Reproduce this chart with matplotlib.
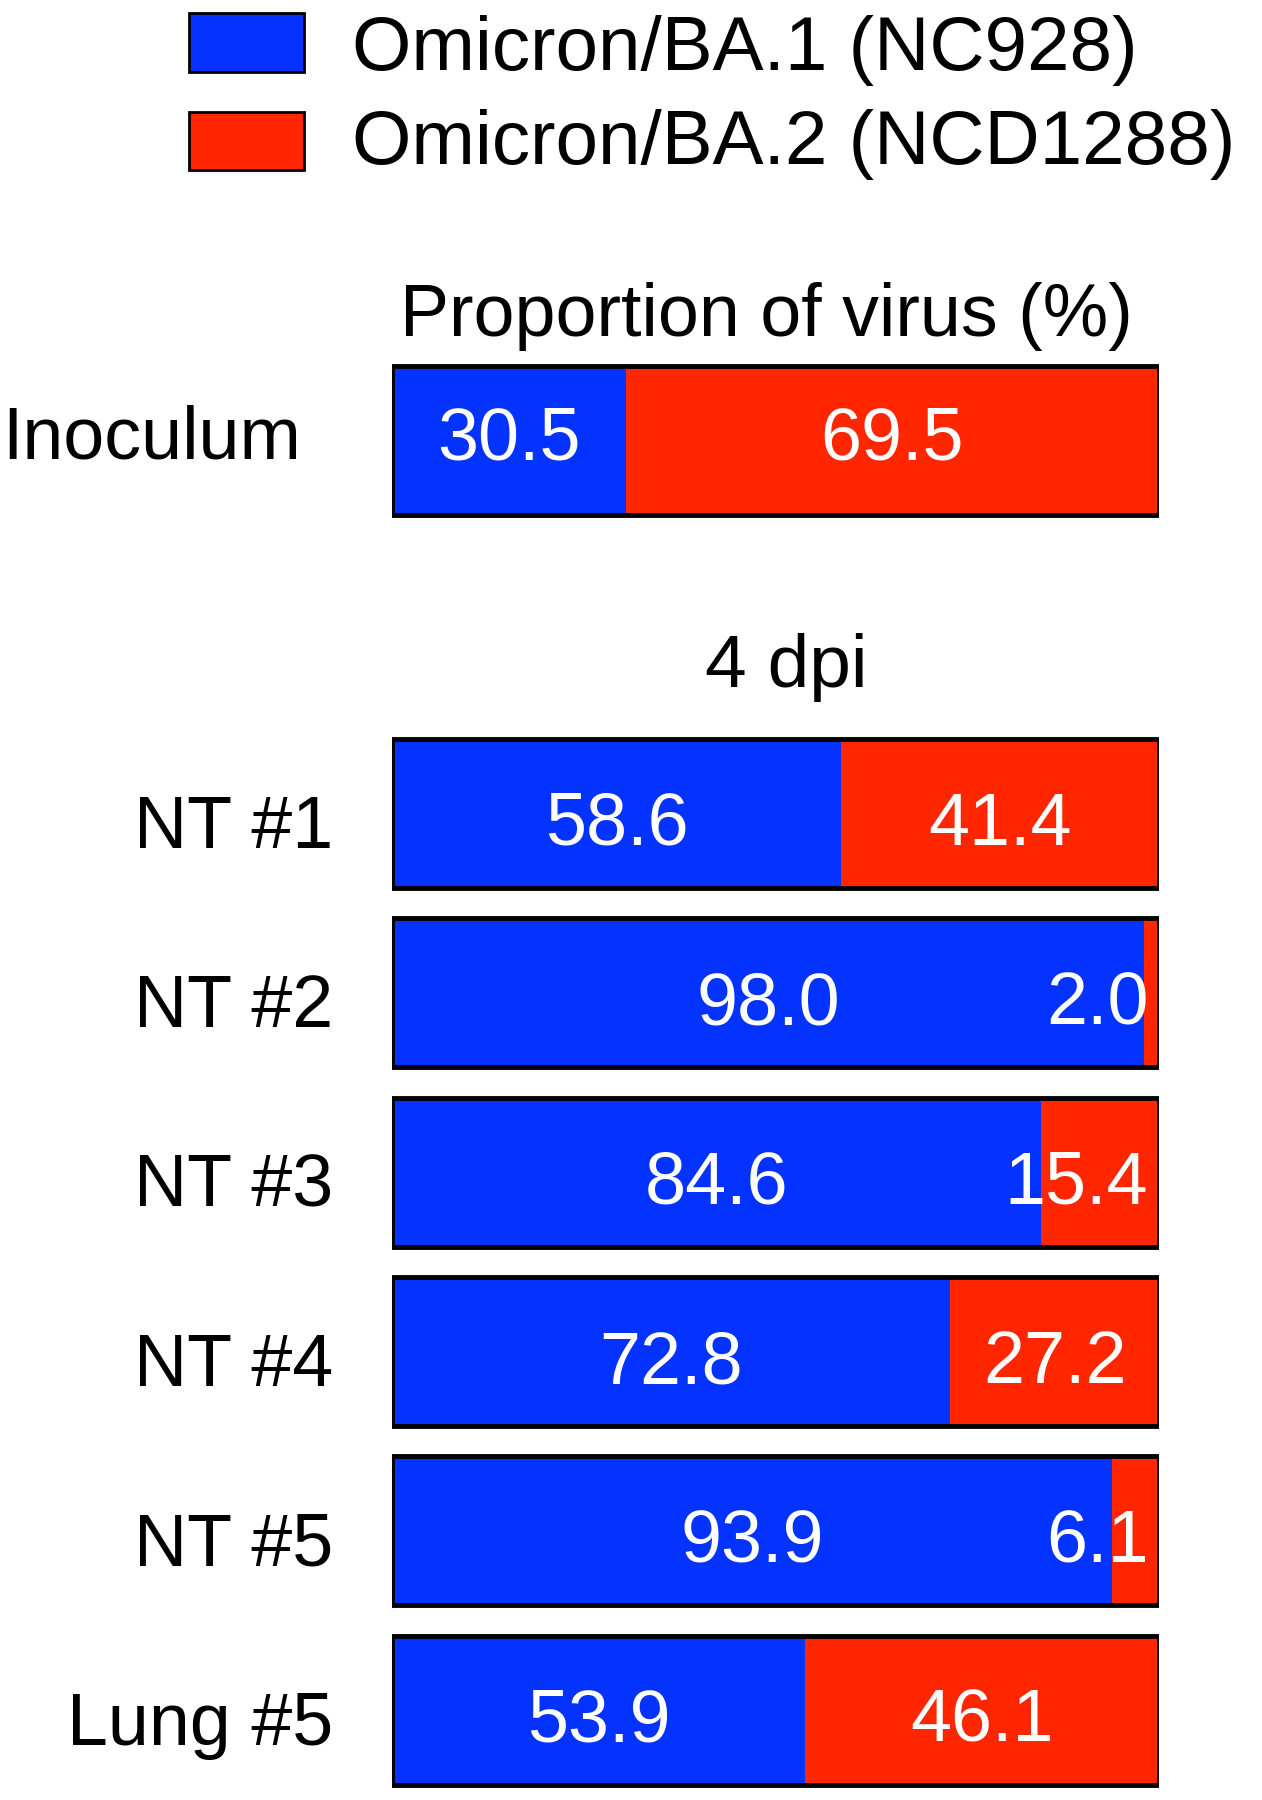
import matplotlib
matplotlib.use("Agg")
import matplotlib.pyplot as plt
from matplotlib.patches import Rectangle

plt.rcParams["font.family"] = ["Liberation Sans", "DejaVu Sans"]

BLUE = "#0433FF"
RED = "#FF2600"

series_names = ["Omicron/BA.1 (NC928)", "Omicron/BA.2 (NCD1288)"]

inoc_label = ["Inoculum"]
inoc_ba1 = [30.5]
inoc_ba2 = [69.5]

rows = ["NT #1", "NT #2", "NT #3", "NT #4", "NT #5", "Lung #5"]
ba1 = [58.6, 98.0, 84.6, 72.8, 93.9, 53.9]
ba2 = [41.4, 2.0, 15.4, 27.2, 6.1, 46.1]

fig = plt.figure(figsize=(12.62, 18), dpi=100)


def draw_bars(ax, labels, blue, red, pad, label_dy, value_dy):
    y = list(range(len(labels)))
    ax.barh(y, blue, height=0.83, color=BLUE, linewidth=0)
    ax.barh(y, red, left=blue, height=0.83, color=RED, linewidth=0)
    totals = [b + r for b, r in zip(blue, red)]
    ax.barh(y, totals, height=0.83, fill=False, edgecolor="black", linewidth=3.5)
    for yi, lab, b, r in zip(y, labels, blue, red):
        ax.annotate(lab, (0, yi), xycoords=("axes fraction", "data"),
                    xytext=(-pad, -label_dy), textcoords="offset pixels",
                    ha="right", va="center", fontsize=53)
        ax.annotate(f"{b:.1f}", (b / 2, yi), xytext=(0, -value_dy),
                    textcoords="offset pixels", ha="center", va="center",
                    color="white", fontsize=53)
        if r < 20:
            # small segment: keep the number inside the bar's right end
            ax.annotate(f"{r:.1f}", (98.6, yi), xytext=(0, -value_dy),
                        textcoords="offset pixels", ha="right", va="center",
                        color="white", fontsize=53)
        else:
            ax.annotate(f"{r:.1f}", (b + r / 2, yi), xytext=(0, -value_dy),
                        textcoords="offset pixels", ha="center", va="center",
                        color="white", fontsize=53)
    ax.set_xlim(0, 100)
    ax.set_ylim(len(labels) - 0.5, -0.5)
    ax.set_xticks([])
    ax.set_yticks([])
    for s in ax.spines.values():
        s.set_visible(False)


ax_inoc = fig.add_axes([0.3106, 0.7056, 0.6078, 0.0997])
draw_bars(ax_inoc, inoc_label, inoc_ba1, inoc_ba2, pad=91, label_dy=-1, value_dy=0)

ax_rows = fig.add_axes([0.3106, 0.0, 0.6078, 0.598])
draw_bars(ax_rows, rows, ba1, ba2, pad=59, label_dy=15, value_dy=12)

fig.text(0.607, 0.8244, "Proportion of virus (%)", ha="center", va="center", fontsize=53)
fig.text(0.623, 0.629, "4 dpi", ha="center", va="center", fontsize=54)

# legend drawn by hand
legend_y = [1 - 42.5 / 1800, 1 - 141.5 / 1800]
text_y = [1 - 51 / 1800, 1 - 144 / 1800]
for name, col, yc, ty in zip(series_names, [BLUE, RED], legend_y, text_y):
    h = 58 / 1800
    fig.patches.append(Rectangle((189 / 1262, yc - h / 2), 115 / 1262, h,
                                 transform=fig.transFigure, facecolor=col,
                                 edgecolor="black", linewidth=2))
    fig.text(352 / 1262, ty, name, ha="left", va="center", fontsize=55)

fig.savefig("out.png", dpi=100)
